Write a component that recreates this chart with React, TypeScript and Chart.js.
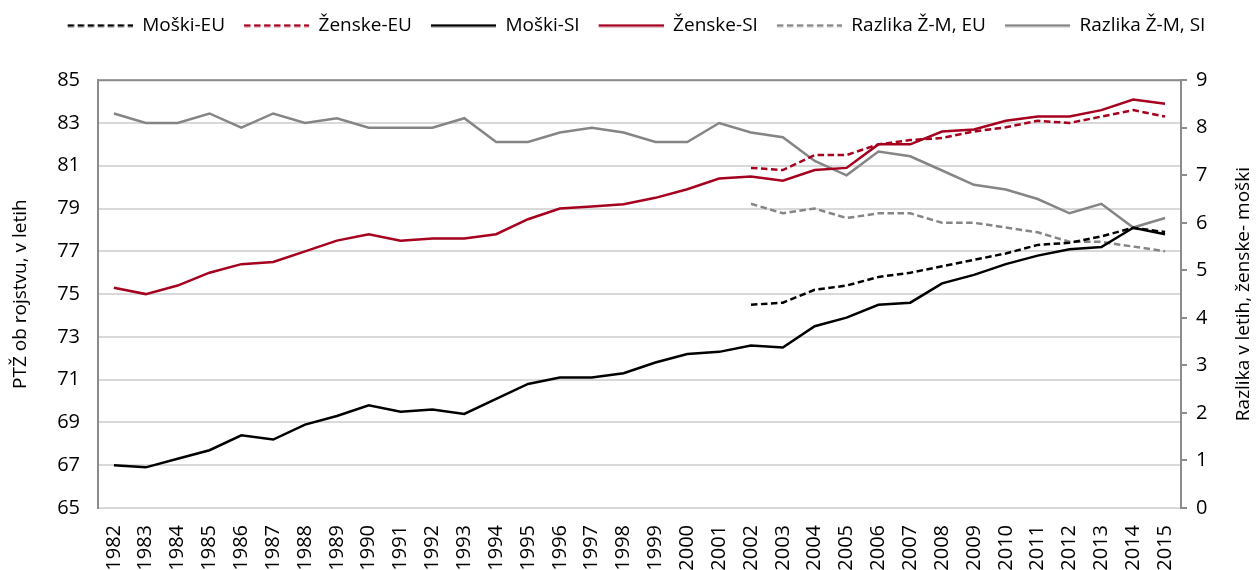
import React, { useEffect, useRef } from "react";
import { Chart, registerables } from "chart.js";

Chart.register(...registerables);

const years = [
  "1982", "1983", "1984", "1985", "1986", "1987", "1988", "1989", "1990", "1991",
  "1992", "1993", "1994", "1995", "1996", "1997", "1998", "1999", "2000", "2001",
  "2002", "2003", "2004", "2005", "2006", "2007", "2008", "2009", "2010", "2011",
  "2012", "2013", "2014", "2015",
];

const moskiEU = [
  null, null, null, null, null, null, null, null, null, null,
  null, null, null, null, null, null, null, null, null, null,
  74.5, 74.6, 75.2, 75.4, 75.8, 76.0, 76.3, 76.6, 76.9, 77.3,
  77.4, 77.7, 78.1, 77.9,
];

const zenskeEU = [
  null, null, null, null, null, null, null, null, null, null,
  null, null, null, null, null, null, null, null, null, null,
  80.9, 80.8, 81.5, 81.5, 82.0, 82.2, 82.3, 82.6, 82.8, 83.1,
  83.0, 83.3, 83.6, 83.3,
];

const moskiSI = [
  67.0, 66.9, 67.3, 67.7, 68.4, 68.2, 68.9, 69.3, 69.8, 69.5,
  69.6, 69.4, 70.1, 70.8, 71.1, 71.1, 71.3, 71.8, 72.2, 72.3,
  72.6, 72.5, 73.5, 73.9, 74.5, 74.6, 75.5, 75.9, 76.4, 76.8,
  77.1, 77.2, 78.1, 77.8,
];

const zenskeSI = [
  75.3, 75.0, 75.4, 76.0, 76.4, 76.5, 77.0, 77.5, 77.8, 77.5,
  77.6, 77.6, 77.8, 78.5, 79.0, 79.1, 79.2, 79.5, 79.9, 80.4,
  80.5, 80.3, 80.8, 80.9, 82.0, 82.0, 82.6, 82.7, 83.1, 83.3,
  83.3, 83.6, 84.1, 83.9,
];

const razlikaEU = [
  null, null, null, null, null, null, null, null, null, null,
  null, null, null, null, null, null, null, null, null, null,
  6.4, 6.2, 6.3, 6.1, 6.2, 6.2, 6.0, 6.0, 5.9, 5.8,
  5.6, 5.6, 5.5, 5.4,
];

const razlikaSI = [
  8.3, 8.1, 8.1, 8.3, 8.0, 8.3, 8.1, 8.2, 8.0, 8.0,
  8.0, 8.2, 7.7, 7.7, 7.9, 8.0, 7.9, 7.7, 7.7, 8.1,
  7.9, 7.8, 7.3, 7.0, 7.5, 7.4, 7.1, 6.8, 6.7, 6.5,
  6.2, 6.4, 5.9, 6.1,
];

const leftTitle = "PTŽ ob rojstvu, v letih";
const rightTitle = "Razlika v letih, ženske- moški";

const FONT = "'Open Sans', 'Noto Sans', sans-serif";
const RED = "#a6001f";
const GRAY = "#858585";
const DASH = [6.5, 3.5];
const LW = 2.5;

function legendSwatch(color: string, dashed: boolean) {
  const c = document.createElement("canvas");
  c.width = 80;
  c.height = 4;
  const ctx = c.getContext("2d");
  if (ctx) {
    ctx.strokeStyle = color;
    ctx.lineWidth = LW;
    ctx.setLineDash(dashed ? DASH : []);
    ctx.beginPath();
    ctx.moveTo(15, 2);
    ctx.lineTo(80, 2);
    ctx.stroke();
  }
  return c;
}

const decorations = {
  id: "decorations",
  afterDatasetsDraw(chart: any) {
    const { ctx, chartArea } = chart;
    ctx.save();
    ctx.strokeStyle = "#8c8c8c";
    ctx.lineWidth = 2;
    ctx.beginPath();
    ctx.moveTo(chartArea.left, chartArea.top);
    ctx.lineTo(chartArea.right, chartArea.top);
    ctx.stroke();
    ctx.restore();
  },
  afterDraw(chart: any) {
    const { ctx, chartArea, width } = chart;
    ctx.save();
    ctx.fillStyle = "#000";
    ctx.font = `19px ${FONT}`;
    ctx.textAlign = "center";
    ctx.textBaseline = "middle";
    ctx.translate(width - 14, (chartArea.top + chartArea.bottom) / 2);
    ctx.rotate(-Math.PI / 2);
    ctx.fillText(rightTitle, 0, 0);
    ctx.restore();
  },
};

export default function App() {
  const ref = useRef<HTMLCanvasElement | null>(null);

  useEffect(() => {
    if (!ref.current) return;
    const mk = (label: string, data: any[], color: string, dashed: boolean, axis: string) => ({
      label,
      data,
      borderColor: color,
      backgroundColor: color,
      borderWidth: LW,
      borderDash: dashed ? DASH : [],
      pointRadius: 0,
      pointHoverRadius: 0,
      pointStyle: legendSwatch(color, dashed),
      tension: 0,
      spanGaps: false,
      yAxisID: axis,
      fill: false,
    });
    const chart = new Chart(ref.current, {
      type: "line",
      data: {
        labels: years,
        datasets: [
          mk("Moški-EU", moskiEU, "#000000", true, "y"),
          mk("Ženske-EU", zenskeEU, RED, true, "y"),
          mk("Moški-SI", moskiSI, "#000000", false, "y"),
          mk("Ženske-SI", zenskeSI, RED, false, "y"),
          mk("Razlika Ž-M, EU", razlikaEU, GRAY, true, "y1"),
          mk("Razlika Ž-M, SI", razlikaSI, GRAY, false, "y1"),
        ],
      },
      options: {
        animation: false,
        responsive: false,
        maintainAspectRatio: false,
        layout: { padding: { top: 12, left: 0, right: 0, bottom: 0 } },
        plugins: {
          tooltip: { enabled: false },
          title: {
            display: true,
            text: " ",
            position: "top",
            weight: 0,
            font: { size: 1 },
            padding: { top: 34, bottom: 0 },
          },
          legend: {
            position: "top",
            align: "center",
            weight: 1000,
            labels: {
              usePointStyle: true,
              pointStyleWidth: 80,
              boxHeight: 4,
              padding: 4,
              color: "#000",
              font: { family: FONT, size: 19 },
            },
          },
        },
        scales: {
          x: {
            type: "category",
            offset: true,
            grid: { display: false },
            border: { display: true, color: "#d9d9d9", width: 2 },
            ticks: {
              minRotation: 90,
              maxRotation: 90,
              autoSkip: false,
              color: "#000",
              padding: 9,
              font: { family: FONT, size: 20 },
            },
            afterFit: (s: any) => { s.height = 62; },
          },
          y: {
            position: "left",
            min: 65,
            max: 85,
            ticks: {
              stepSize: 2,
              color: "#000",
              padding: 18,
              font: { family: FONT, size: 20 },
            },
            grid: { color: "#d9d9d9", lineWidth: 2, drawTicks: false },
            border: { display: true, color: "#8c8c8c", width: 2 },
            title: {
              display: true,
              text: leftTitle,
              color: "#000",
              padding: { top: 9, bottom: 0 },
              font: { family: FONT, size: 19 },
            },
            afterFit: (s: any) => { s.width = 98; },
          },
          y1: {
            position: "right",
            min: 0,
            max: 9,
            ticks: {
              stepSize: 1,
              color: "#000",
              padding: 9,
              font: { family: FONT, size: 20 },
            },
            grid: { drawOnChartArea: false, drawTicks: true, tickLength: 6, color: "#8c8c8c", lineWidth: 2 },
            border: { display: true, color: "#8c8c8c", width: 2 },
            title: { display: false, text: rightTitle },
            afterFit: (s: any) => { s.width = 77; },
          },
        },
      },
      plugins: [decorations],
    });
    return () => chart.destroy();
  }, []);

  return (
    <div style={{ position: "fixed", left: 0, top: 0, width: 1258, height: 570, background: "#fff" }}>
      <canvas ref={ref} width={1258} height={570} style={{ display: "block" }} />
    </div>
  );
}
